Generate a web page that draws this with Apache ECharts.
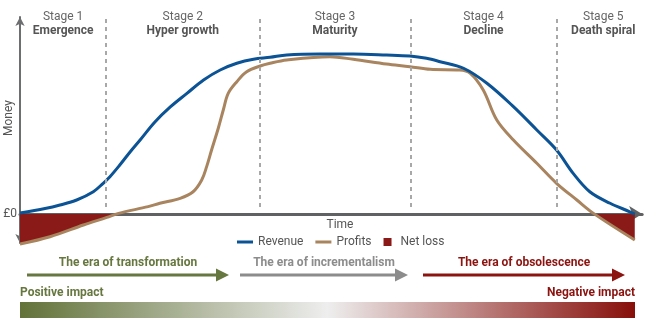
<!DOCTYPE html>
<html><head><meta charset="utf-8">
<script src="https://cdn.jsdelivr.net/npm/echarts@6/dist/echarts.min.js"></script>
<style>html,body{margin:0;padding:0;background:#fff}#c{width:650px;height:328px}</style>
</head><body><div id="c"></div>
<script>
// ---------- data ----------
const revenueTime  = [0, 4.06, 6.49, 9.2, 11.9, 13.5, 14.6, 16.2, 17.9, 19.5, 21.9, 24.4, 27.1, 29.8, 32.5, 35.2, 37.9, 40.6, 43.3, 48.7, 54.1, 59.5, 63.3, 66.0, 68.2, 72.0, 75.8, 80.1, 83.9, 87.1, 89.8, 92.5, 95.8, 99.0, 99.8];
const revenueValue = [0.6, 3.4, 5.6, 8.75, 13.9, 19.2, 23.3, 30.6, 38.9, 46.25, 57.5, 66.9, 75.4, 83.75, 90, 94.2, 96.7, 97.9, 99.4, 100, 100, 99.4, 98.75, 97.3, 95.2, 91.1, 81.7, 67.1, 52.5, 40, 25.4, 13.9, 6.7, 1.4, 0];
const profitTime   = [0, 4.87, 10.3, 14.1, 16.0, 20.8, 22.7, 26.0, 28.1, 29.5, 30.3, 31.1, 32.2, 33.0, 33.8, 35.2, 36.8, 39.0, 40.6, 43.3, 50.3, 54.1, 59.5, 63.3, 66.6, 71.4, 73.1, 75.2, 77.4, 80.1, 83.9, 87.1, 90.4, 93.1, 99.8];
const profitValue  = [-18.75, -14.2, -6.9, -2.1, 0.4, 4.6, 6.7, 9.8, 13.9, 21.25, 29.6, 40, 53.75, 65, 75.4, 82.7, 88.9, 92.5, 94.2, 96.25, 98.3, 96.7, 93.75, 92.1, 90.4, 90, 87.9, 77.5, 58.75, 46.25, 31.7, 19.2, 8.75, 0.4, -16.25];
const seriesNames  = ['Revenue', 'Profits', 'Net loss'];
const stageNumbers = ['Stage 1', 'Stage 2', 'Stage 3', 'Stage 4', 'Stage 5'];
const stageNames   = ['Emergence', 'Hyper growth', 'Maturity', 'Decline', 'Death spiral'];
const stageBoundaries = [14.0, 38.85, 63.4, 87.1];
const eraNames     = ['The era of transformation', 'The era of incrementalism', 'The era of obsolescence'];
const impactLabels = ['Positive impact', 'Negative impact'];
const zeroLabel    = '£0';
const axisNames    = ['Time', 'Money'];

// ---------- styles / layout ----------
const FONT = 'Roboto';
const C_REV = '#0b5394', C_PROF = '#a8845f', C_LOSS = '#8a1a17';
const C_GREEN = '#66773f', C_GRAY = '#8c8c8c', C_RED = '#8b1410';
const eraColors = [C_GREEN, C_GRAY, C_RED];
const eraX = [[27, 229], [240, 408], [423, 625]];
const X_MAX = 101, Y_MIN = -18.125, Y_MAX = 123.125;

const pairs = (ts, vs) => ts.map((t, i) => [t, vs[i]]);
// negative parts of profits (with zero crossings) -> net loss segments
function lossSegments(ts, vs) {
  const segs = []; let cur = null;
  for (let i = 0; i < ts.length; i++) {
    const v = vs[i];
    if (v <= 0) {
      if (!cur) {
        cur = [];
        if (i > 0 && vs[i - 1] > 0) {
          const t0 = ts[i - 1] + (ts[i] - ts[i - 1]) * vs[i - 1] / (vs[i - 1] - v);
          cur.push([t0, 0]);
        }
        segs.push(cur);
      }
      cur.push([ts[i], v]);
    } else if (cur) {
      const t0 = ts[i - 1] + (ts[i] - ts[i - 1]) * (-vs[i - 1]) / (v - vs[i - 1]);
      cur.push([t0, 0]);
      cur = null;
    }
  }
  return segs;
}
const losses = lossSegments(profitTime, profitValue);

const chart = echarts.init(document.getElementById('c'));
const option = {
  animation: false,
  textStyle: { fontFamily: FONT },
  grid: { left: 20, top: 17, width: X_MAX * 6.16, height: 226 },
  xAxis: {
    type: 'value', min: 0, max: X_MAX,
    axisLine: { show: true, symbol: ['none', 'arrow'], symbolSize: [12, 13], lineStyle: { color: '#5f6163', width: 3 } },
    axisTick: { show: false }, axisLabel: { show: false }, splitLine: { show: false }
  },
  yAxis: {
    type: 'value', min: Y_MIN, max: Y_MAX,
    axisLine: { show: true, symbol: ['arrow', 'arrow'], symbolSize: [7, 9], lineStyle: { color: '#6d6e70', width: 2 } },
    axisTick: { show: false }, splitLine: { show: false },
    axisLabel: { customValues: [0], formatter: () => zeroLabel, color: '#555', fontSize: 12, fontFamily: FONT, margin: 3 }
  },
  legend: {
    left: 232, top: 231, itemWidth: 16, itemHeight: 8, itemGap: 12, selectedMode: false,
    textStyle: { color: '#555', fontSize: 12, fontFamily: FONT },
    data: [
      { name: seriesNames[0], icon: 'path://M0,0H16V3H0Z' },
      { name: seriesNames[1], icon: 'path://M0,0H16V3H0Z' },
      { name: seriesNames[2], icon: 'path://M0,0H7V7H0Z' }
    ]
  },
  series: [
    ...losses.map(seg => ({
      name: seriesNames[2], type: 'line', data: seg, smooth: 0.35, showSymbol: false, clip: false,
      lineStyle: { width: 0 }, itemStyle: { color: C_LOSS },
      areaStyle: { color: C_LOSS, opacity: 1 }, z: 1
    })),
    {
      name: seriesNames[0], type: 'line', data: pairs(revenueTime, revenueValue), smooth: 0.35,
      showSymbol: false, clip: false, itemStyle: { color: C_REV }, lineStyle: { color: C_REV, width: 3 }, z: 4,
      markLine: {
        silent: true, symbol: ['none', 'none'], label: { show: false },
        lineStyle: { color: '#a8a8a8', width: 2, type: [4, 4] },
        data: stageBoundaries.map(b => [{ coord: [b, 121.9] }, { coord: [b, 2.5] }])
      }
    },
    {
      name: seriesNames[1], type: 'line', data: pairs(profitTime, profitValue), smooth: 0.35,
      showSymbol: false, clip: false, itemStyle: { color: C_PROF }, lineStyle: { color: C_PROF, width: 3 }, z: 3
    }
  ]
};
chart.setOption(option);

const px = t => chart.convertToPixel({ xAxisIndex: 0 }, t);
const py = v => chart.convertToPixel({ yAxisIndex: 0 }, v);
const g = [];
// stage labels
const edges = [px(0), ...stageBoundaries.map(px), 650];
stageNumbers.forEach((s, i) => {
  const cx = (edges[i] + edges[i + 1]) / 2;
  g.push({ type: 'text', x: cx, y: 17, style: { text: s, fill: '#666', font: '12px ' + FONT, align: 'center', verticalAlign: 'middle' } });
  g.push({ type: 'text', x: cx, y: 31, style: { text: stageNames[i], fill: '#555', font: 'bold 12px ' + FONT, align: 'center', verticalAlign: 'middle' } });
});
// axis names
g.push({ type: 'text', x: 340, y: py(0) + 11, style: { text: axisNames[0], fill: '#555', font: '12px ' + FONT, align: 'center', verticalAlign: 'middle' } });
g.push({ type: 'text', x: 9, y: 118, rotation: Math.PI / 2, style: { text: axisNames[1], fill: '#555', font: '12px ' + FONT, align: 'center', verticalAlign: 'middle' } });
// era arrows
eraNames.forEach((n, i) => {
  const [x0, x1] = eraX[i], y = 275, c = eraColors[i];
  g.push({ type: 'line', shape: { x1: x0, y1: y, x2: x1 - 10, y2: y }, style: { stroke: c, lineWidth: 3 } });
  g.push({ type: 'polygon', shape: { points: [[x1 - 13, y - 6.5], [x1, y], [x1 - 13, y + 6.5]] }, style: { fill: c } });
  g.push({ type: 'text', x: (x0 + x1) / 2, y: 263, style: { text: n, fill: c, font: 'bold 12px ' + FONT, align: 'center', verticalAlign: 'middle' } });
});
// impact labels and gradient bar
g.push({ type: 'text', x: 20, y: 293, style: { text: impactLabels[0], fill: C_GREEN, font: 'bold 12px ' + FONT, align: 'left', verticalAlign: 'middle' } });
g.push({ type: 'text', x: 635, y: 293, style: { text: impactLabels[1], fill: C_RED, font: 'bold 12px ' + FONT, align: 'right', verticalAlign: 'middle' } });
g.push({ type: 'rect', shape: { x: 20, y: 302, width: 615, height: 16 }, style: {
  fill: new echarts.graphic.LinearGradient(0, 0, 1, 0, [
    { offset: 0, color: '#627238' }, { offset: 0.5, color: '#eeeeee' }, { offset: 1, color: '#870f0a' }
  ]) } });
chart.setOption({ graphic: g });
</script></body></html>
